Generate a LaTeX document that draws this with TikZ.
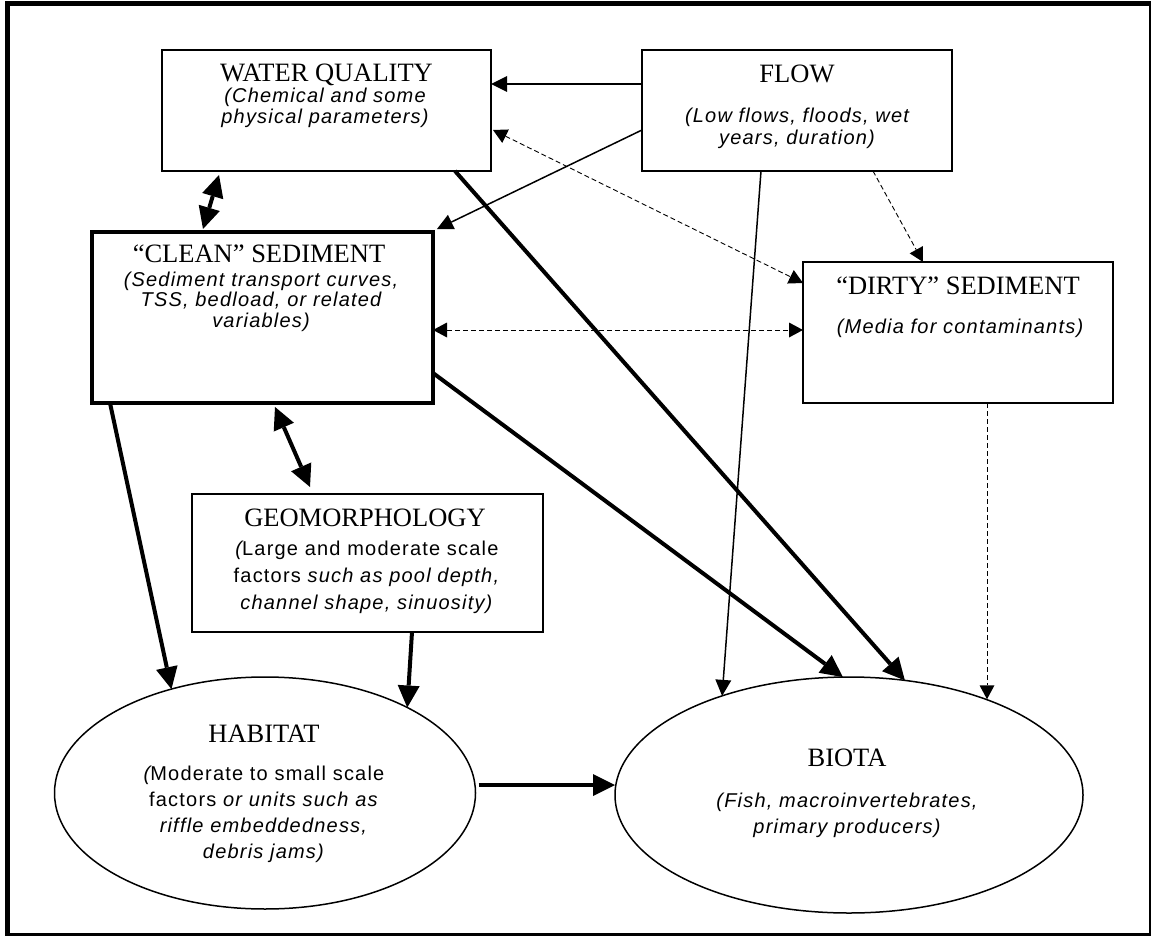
\documentclass[tikz,border=0pt]{standalone}
\usepackage{fontspec}
\usetikzlibrary{arrows.meta,shapes.geometric,calc}
\newfontfamily\titlefam{Liberation Serif}
\newfontfamily\bodyfam[LetterSpace=6]{Liberation Sans}
\begin{document}
\begin{tikzpicture}[x=1pt,y=-1pt,
  box/.style={draw, rectangle, line width=1.6pt, inner sep=0pt, outer sep=0pt},
  oval/.style={draw, ellipse, line width=1.5pt, inner sep=0pt, outer sep=0pt},
  ttl/.style={font=\titlefam\fontsize{26.5}{30}\selectfont, anchor=base, inner sep=0pt},
  bdy/.style={font=\bodyfam\fontsize{20}{#1}\selectfont, anchor=base, inner sep=0pt},
  thinarr/.style={line width=1.5pt, -{Triangle[length=16pt,width=16pt,line width=0pt]}},
  heavyarr/.style={line width=4pt, -{Triangle[length=22pt,width=22pt,line width=0pt]}},
  heavydbl/.style={line width=4pt, {Triangle[length=22pt,width=22pt,line width=0pt]}-{Triangle[length=22pt,width=22pt,line width=0pt]}},
  dasharr/.style={line width=0.9pt, dash pattern=on 5pt off 3pt, -{Triangle[length=14pt,width=15pt,line width=0pt]}},
  dashdbl/.style={line width=0.9pt, dash pattern=on 5pt off 3pt, {Triangle[length=14pt,width=15pt,line width=0pt]}-{Triangle[length=14pt,width=15pt,line width=0pt]}}
]
\useasboundingbox (0,0) rectangle (1151,936);
% outer frame
\fill (5,1) rectangle (9.5,935.5);
\fill (5,1) rectangle (1151,6);
\fill (1148.5,1) rectangle (1151,935.5);
\fill (5,933) rectangle (1151,935.5);

% shapes
\node[box, minimum width=329, minimum height=121] (wq) at (326.5,110.5) {};
\node[box, minimum width=310, minimum height=121] (flow) at (797,110.5) {};
\node[box, line width=4.5pt, minimum width=341, minimum height=171] (clean) at (262.5,317.5) {};
\node[box, minimum width=310, minimum height=141] (dirty) at (958,332.5) {};
\node[box, minimum width=351, minimum height=138] (geo) at (367.5,563) {};
\node[oval, minimum width=421, minimum height=232] (habitat) at (265,793) {};
\node[oval, minimum width=468, minimum height=236] (biota) at (849,795) {};

% texts
\node[ttl] (wqt) at (326.5,81.6) {WATER QUALITY};
\node[bdy=21] (wqb) at (325,102.7) {\itshape\begin{tabular}[t]{@{}c@{}}(Chemical and some\\physical parameters)\end{tabular}};
\node[ttl] (flowt) at (797,82.6) {FLOW};
\node[bdy=22] (flowb) at (797,123) {\itshape\begin{tabular}[t]{@{}c@{}}(Low flows, floods, wet\\years, duration)\end{tabular}};
\node[ttl] (cleant) at (259,262.6) {“CLEAN” SEDIMENT};
\node[bdy=20.7] (cleanb) at (261,286.2) {\itshape\begin{tabular}[t]{@{}c@{}}(Sediment transport curves,\\TSS, bedload, or related\\variables)\end{tabular}};
\node[ttl] (dirtyt) at (958,294.6) {“DIRTY” SEDIMENT};
\node[bdy=21] (dirtyb) at (960,333) {\itshape\begin{tabular}[t]{@{}c@{}}(Media for contaminants)\end{tabular}};
\node[ttl] (geot) at (365,526.6) {GEOMORPHOLOGY};
\node[bdy=27] (geob) at (367,555) {\begin{tabular}[t]{@{}c@{}}{\itshape(}Large and moderate scale\\factors \textit{such as pool depth,}\\\textit{channel shape, sinuosity)}\end{tabular}};
\node[ttl] (habt) at (264,742.6) {HABITAT};
\node[bdy=26] (habb) at (264,780) {\begin{tabular}[t]{@{}c@{}}{\itshape(}Moderate to small scale\\factors \textit{or units such as}\\\textit{riffle embeddedness,}\\\textit{debris jams)}\end{tabular}};
\node[ttl] (biotat) at (847,766.6) {BIOTA};
\node[bdy=26.7] (biotab) at (847,807.2) {\itshape\begin{tabular}[t]{@{}c@{}}(Fish, macroinvertebrates,\\primary producers)\end{tabular}};

% connectors
\coordinate (d1) at ($(dirty.south west)+(184,0)$);
\draw[thinarr] ($(flow.north west)+(0,34)$) -- ($(wq.north east)+(0,34)$);
\draw[thinarr] ($(flow.north west)+(0,80)$) -- ($(clean.north east)+(4,-3)$);
\draw[dashdbl] ($(wq.north east)+(2,80)$) -- ($(dirty.north west)+(0,21)$);
\draw[dashdbl] ($(clean.north east)+(0,98)$) -- ($(dirty.north west)+(0,68)$);
\draw[dasharr] ($(flow.south west)+(231,0)$) -- ($(dirty.north west)+(120,0)$);
\draw[dasharr] (d1) -- (d1 |- biota.35);
\draw[thinarr] ($(flow.south west)+(119,0)$) -- (biota.142);
\draw[heavyarr] ($(wq.south west)+(293,0)$) -- (biota.64);
\draw[heavyarr] ($(clean.north east)+(0,141)$) -- (biota.93);
\draw[heavydbl] ($(wq.south west)+(57,4)$) -- ($(clean.north west)+(111,-3)$);
\draw[heavydbl] ($(clean.south west)+(183,4)$) -- ($(geo.north west)+(118,-7)$);
\draw[heavyarr] ($(clean.south west)+(18,0)$) -- (habitat.132);
\draw[heavyarr] ($(geo.south west)+(220,0)$) -- (habitat.31);
\draw[heavyarr] ($(habitat.east)+(3,-8)$) -- ($(biota.west)+(0,-10)$);
\end{tikzpicture}
\end{document}
